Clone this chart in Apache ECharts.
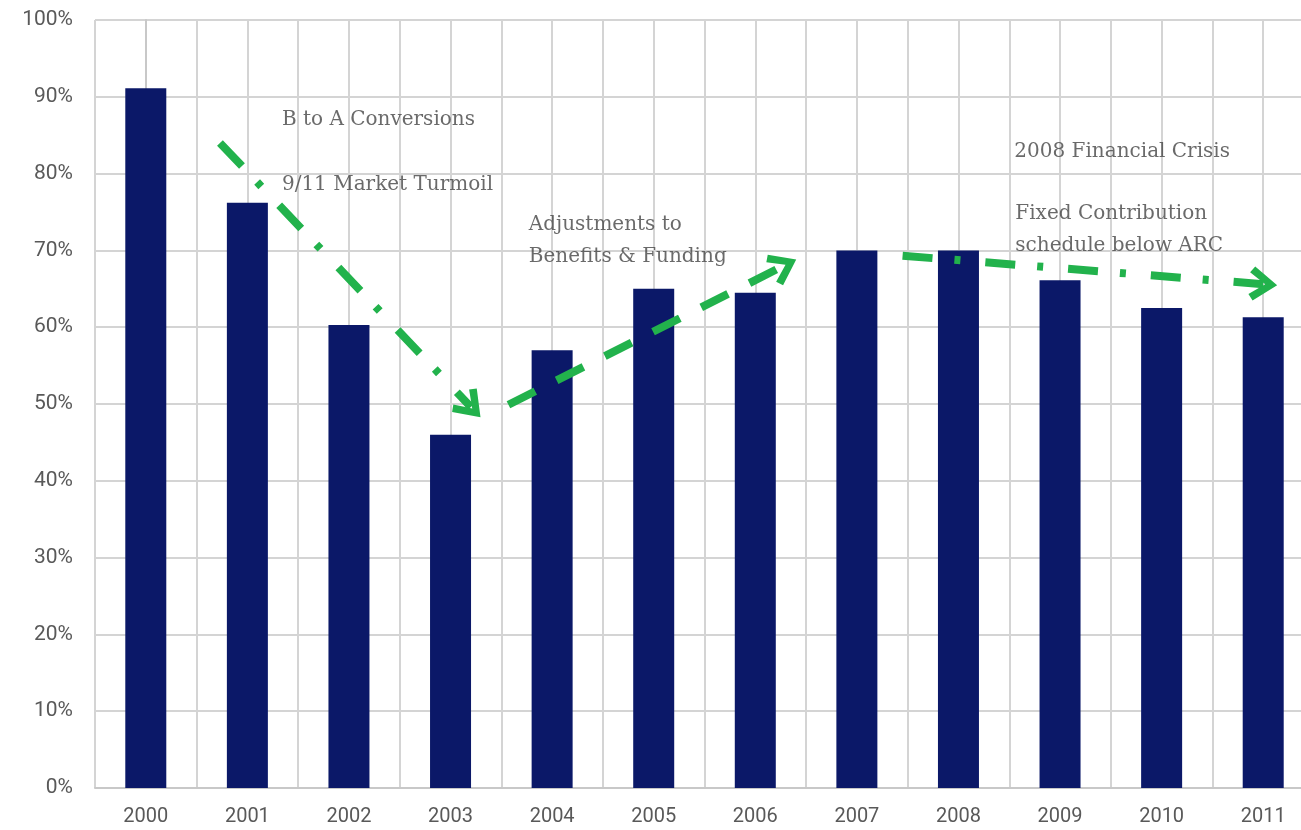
<!DOCTYPE html>
<html>
<head>
<meta charset="utf-8">
<script src="https://cdn.jsdelivr.net/npm/echarts@6/dist/echarts.min.js"></script>
<style>html,body{margin:0;padding:0;background:#fff;overflow:hidden}#c{width:1314px;height:830px}</style>
</head>
<body>
<div id="c"></div>
<script>
const years = ['2000','2001','2002','2003','2004','2005','2006','2007','2008','2009','2010','2011'];
const fundedRatio = [91.1, 76.2, 60.3, 46.0, 57.0, 65.0, 64.5, 70.0, 70.0, 66.1, 62.5, 61.3];
const yTicks = [0,10,20,30,40,50,60,70,80,90,100];
// annotation arrows in data space: [xPos, yValue] start and end
const arrowDown = [[0.73, 84.0], [3.2, 49.6]];
const arrowUp = [[3.57, 49.9], [6.28, 68.0]];
const arrowFlat = [[7.45, 69.3], [11.0, 65.6]];
// annotation texts: [xPos, yValue, text]
const notes = [
  [1.34, 87.0, 'B to A Conversions'],
  [1.34, 78.5, '9/11 Market Turmoil'],
  [3.77, 71.2, 'Adjustments to\nBenefits & Funding'],
  [8.55, 82.9, '2008 Financial Crisis'],
  [8.56, 72.7, 'Fixed Contribution\nschedule below ARC']
];

const halfSlots = years.flatMap(y => [y + 'a', y + 'b']);
const green = '#22b24c';
const chevron = 'path://M50 0 L100 70 L82 84 L50 36 L18 84 L0 70 Z';

function arrowSeries(pts, dash) {
  return {
    type: 'scatter', xAxisIndex: 2, yAxisIndex: 0, symbolSize: 0,
    data: [], silent: true,
    markLine: {
      silent: true, animation: false,
      symbol: ['none', chevron], symbolSize: [34, 28],
      label: {show: false},
      lineStyle: {color: green, width: 8, type: dash, cap: 'butt', opacity: 1},
      data: [[{coord: pts[0]}, {coord: pts[1]}]]
    }
  };
}

const chart = echarts.init(document.getElementById('c'));
chart.setOption({
  animation: false,
  grid: {left: 95, top: 20, right: 0, height: 768, containLabel: false},
  xAxis: [
    {type: 'category', data: years, position: 'bottom',
     axisTick: {show: false},
     axisLine: {show: true, lineStyle: {color: '#c8c8c8', width: 2}},
     axisLabel: {color: '#595959', fontSize: 20, fontFamily: 'Roboto', margin: 19},
     splitLine: {show: false}},
    {type: 'category', data: halfSlots, position: 'bottom', boundaryGap: true,
     axisTick: {show: false}, axisLine: {show: false}, axisLabel: {show: false},
     splitLine: {show: true, interval: 0, lineStyle: {color: '#d4d4d4', width: 2}}},
    {type: 'value', min: -0.5, max: 11.5, show: false}
  ],
  yAxis: {
    type: 'value', min: 0, max: 100, interval: 10,
    axisLine: {show: true, lineStyle: {color: '#c8c8c8', width: 2}},
    axisTick: {show: false},
    axisLabel: {color: '#595959', fontSize: 21, fontFamily: 'Roboto', margin: 22,
      formatter: v => yTicks.includes(v) ? v + '%' : ''},
    splitLine: {show: true, lineStyle: {color: '#d4d4d4', width: 2}}
  },
  series: [
    {type: 'bar', xAxisIndex: 0, data: fundedRatio, barWidth: 41,
     itemStyle: {color: '#0b1868'}, z: 3},
    arrowSeries(arrowDown, [32, 22, 6, 26]),
    arrowSeries(arrowUp, [30, 24]),
    arrowSeries(arrowFlat, [30, 22, 6, 25]),
    {type: 'scatter', xAxisIndex: 2, yAxisIndex: 0, symbolSize: 0, silent: true,
     data: notes.map(n => ({value: [n[0], n[1]], name: n[2]})),
     label: {show: true, position: 'right', distance: 0, formatter: p => p.name,
       color: '#454545', fontSize: 20, fontFamily: 'DejaVu Serif', lineHeight: 32, align: 'left'},
     z: 5}
  ]
});
</script>
</body>
</html>
